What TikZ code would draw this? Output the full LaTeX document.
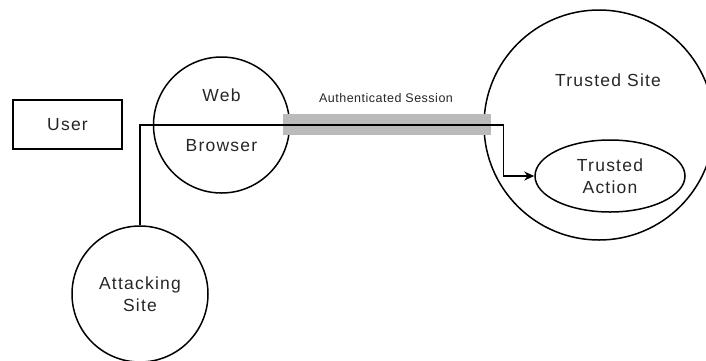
\documentclass[tikz,border=0pt]{standalone}
\usepackage{fontspec}
\setmainfont{Liberation Sans}
\newfontfamily\labfont[LetterSpace=7]{Liberation Sans}
\newfontfamily\smallfont[LetterSpace=4]{Liberation Sans}
\usetikzlibrary{shapes.geometric,arrows.meta}
\begin{document}
\begin{tikzpicture}[x=1pt,y=-1pt,
  outline/.style={draw=black,line width=1.5pt,inner sep=0pt},
  roundnode/.style={outline,circle},
  lab/.style={font=\labfont\fontsize{17.5}{22}\selectfont,inner sep=0pt,align=center,text=black!85},
  flow/.style={line width=1.5pt,draw=black},
  band/.style={fill=black!27,draw=none,inner sep=0pt}]
\useasboundingbox (0,0) rectangle (706,360);

% user box
\node[outline,rectangle,minimum width=109pt,minimum height=49pt,lab] (user) at (67.5,124.5) {User};

% web browser
\node[roundnode,minimum size=136pt] (wb) at (221.5,125) {};
\node[lab] (wbtop) at (221.5,95) {Web};
\node[lab] (wbbot) at (221.5,146) {Browser};

% trusted site with its action
\node[roundnode,minimum size=230pt] (ts) at (599,125) {};
\node[lab] (tstext) at (608,80) {Trusted Site};
\node[outline,ellipse,minimum width=150pt,minimum height=72pt,lab] (act) at (610,176) {Trusted\\Action};

% attacking site
\node[roundnode,minimum size=136pt,lab] (att) at (140,294) {Attacking\\Site};

% authenticated session band
\node[band,minimum width=208pt,minimum height=21pt] (sess) at (387,124.5) {};
\node[font=\smallfont\fontsize{12.5}{15}\selectfont,inner sep=0pt,text=black!85] (sesslab) at (386,98) {Authenticated Session};

% forged request path
\coordinate (turn) at (503.5,125);
\draw[flow,-{Stealth[length=10pt,width=9pt]}] (att.north) |- (turn) |- (act.west);
\end{tikzpicture}
\end{document}
